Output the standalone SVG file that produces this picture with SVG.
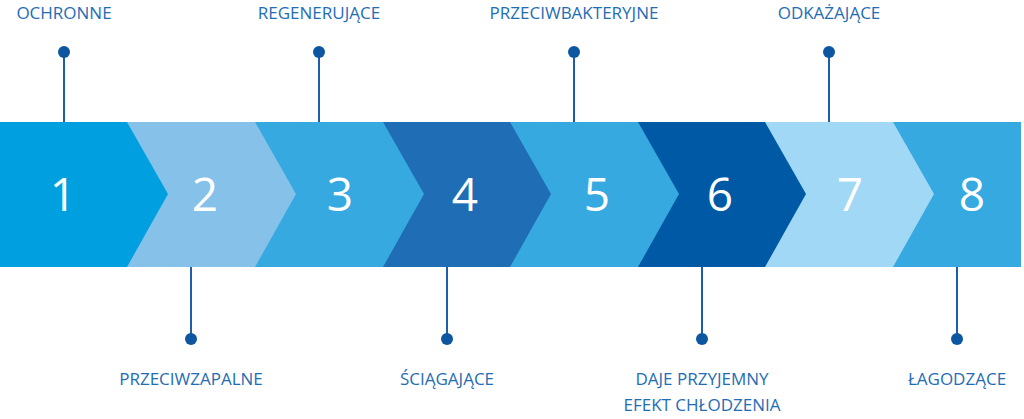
<svg xmlns="http://www.w3.org/2000/svg" width="1024" height="419" viewBox="0 0 1024 419">
<style>
.lbl{font-family:"Open Sans",sans-serif;font-size:17px;fill:#1f6db5;text-anchor:middle}
.num{font-family:"Open Sans",sans-serif;font-size:46px;fill:#fff;text-anchor:middle}
.ln{stroke:#1a5fa8;stroke-width:2}
.dot{fill:#0d57a0}
</style>
<defs>
<linearGradient id="sh" x1="0" x2="1"><stop offset="0.7" stop-color="#000" stop-opacity="0"/><stop offset="1" stop-color="#000" stop-opacity="0.08"/></linearGradient>
</defs>
<g id="band">
<rect x="0" y="122" width="128" height="145" fill="#00a0e0"/>
<rect x="127" y="122" width="128" height="145" fill="#86c1ea"/>
<rect x="255" y="122" width="128" height="145" fill="#36a9e1"/>
<rect x="383" y="122" width="128" height="145" fill="#1f6db5"/>
<rect x="510" y="122" width="128" height="145" fill="#36a9e1"/>
<rect x="638" y="122" width="128" height="145" fill="#0059a5"/>
<rect x="765" y="122" width="128" height="145" fill="#a0d8f5"/>
<rect x="893" y="122" width="128" height="145" fill="#36a9e1"/>
<rect x="0" y="122" width="1021" height="145" fill="url(#sh)" opacity="0"/>
<polygon points="127,122 168,194 127,267" fill="#00a0e0"/>
<polygon points="255,122 296,194 255,267" fill="#86c1ea"/>
<polygon points="383,122 424,194 383,267" fill="#36a9e1"/>
<polygon points="510,122 551,194 510,267" fill="#1f6db5"/>
<polygon points="638,122 679,194 638,267" fill="#36a9e1"/>
<polygon points="765,122 806,194 765,267" fill="#0059a5"/>
<polygon points="893,122 934,194 893,267" fill="#a0d8f5"/>
</g>
<g id="numbers">
<text class="num" x="63" y="211">1</text>
<text class="num" x="205" y="211">2</text>
<text class="num" x="340" y="211">3</text>
<text class="num" x="465" y="211">4</text>
<text class="num" x="597" y="211">5</text>
<text class="num" x="720" y="211">6</text>
<text class="num" x="850" y="211">7</text>
<text class="num" x="972" y="211">8</text>
</g>
<g id="connectors">
<line class="ln" x1="64" y1="52" x2="64" y2="122"/>
<line class="ln" x1="319" y1="52" x2="319" y2="122"/>
<line class="ln" x1="574" y1="52" x2="574" y2="122"/>
<line class="ln" x1="829" y1="52" x2="829" y2="122"/>
<line class="ln" x1="191" y1="267" x2="191" y2="339"/>
<line class="ln" x1="447" y1="267" x2="447" y2="339"/>
<line class="ln" x1="702" y1="267" x2="702" y2="339"/>
<line class="ln" x1="957" y1="267" x2="957" y2="339"/>
<circle class="dot" cx="64" cy="52" r="6"/>
<circle class="dot" cx="319" cy="52" r="6"/>
<circle class="dot" cx="574" cy="52" r="6"/>
<circle class="dot" cx="829" cy="52" r="6"/>
<circle class="dot" cx="191" cy="339" r="6"/>
<circle class="dot" cx="447" cy="339" r="6"/>
<circle class="dot" cx="702" cy="339" r="6"/>
<circle class="dot" cx="957" cy="339" r="6"/>
</g>
<g id="labels">
<text class="lbl" x="64" y="19">OCHRONNE</text>
<text class="lbl" x="319" y="19">REGENERUJĄCE</text>
<text class="lbl" x="574" y="19">PRZECIWBAKTERYJNE</text>
<text class="lbl" x="829" y="19">ODKAŻAJĄCE</text>
<text class="lbl" x="191" y="385">PRZECIWZAPALNE</text>
<text class="lbl" x="447" y="385">ŚCIĄGAJĄCE</text>
<text class="lbl" x="702" y="385">DAJE PRZYJEMNY</text>
<text class="lbl" x="702" y="411">EFEKT CHŁODZENIA</text>
<text class="lbl" x="957" y="385">ŁAGODZĄCE</text>
</g>
</svg>
